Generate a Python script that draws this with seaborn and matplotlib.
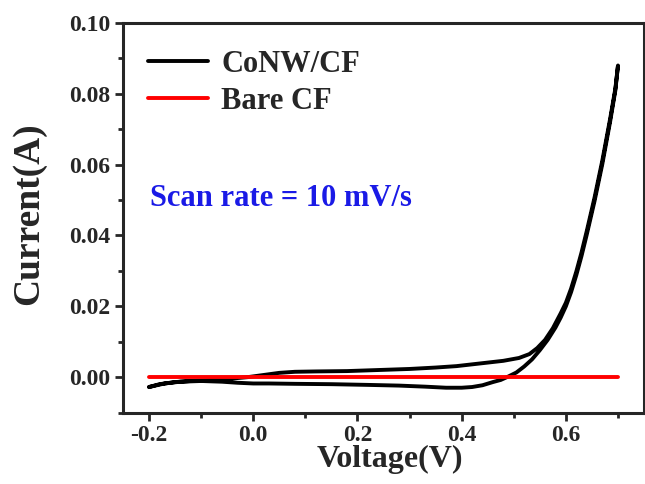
import pandas as pd
import matplotlib
matplotlib.use('Agg')
import matplotlib.pyplot as plt
from matplotlib.ticker import MultipleLocator, FormatStrFormatter
import seaborn as sns

# CoNW/CF cyclic voltammogram, forward (upper) branch
fwd_v = [-0.20, -0.18, -0.15, -0.12, -0.08, -0.04, -0.01, 0.02, 0.05, 0.08,
         0.12, 0.18, 0.24, 0.30, 0.35, 0.39, 0.42, 0.45, 0.48, 0.51,
         0.53, 0.545, 0.56, 0.575, 0.59, 0.60, 0.61, 0.62, 0.63, 0.64,
         0.655, 0.67, 0.685, 0.695, 0.70]
fwd_i = [-0.0028, -0.0020, -0.0014, -0.0011, -0.0008, -0.0004, 0.0000, 0.0006, 0.0012, 0.0015,
         0.0016, 0.0017, 0.0020, 0.0023, 0.0027, 0.0031, 0.0036, 0.0041, 0.0046, 0.0054,
         0.0065, 0.0082, 0.0105, 0.0138, 0.0180, 0.0210, 0.0250, 0.0298, 0.0352, 0.0412,
         0.0507, 0.0612, 0.0730, 0.0815, 0.0880]

# reverse (lower) branch
rev_v = [0.70, 0.695, 0.685, 0.67, 0.655, 0.64, 0.63, 0.62, 0.61, 0.60,
         0.59, 0.58, 0.565, 0.55, 0.535, 0.52, 0.505, 0.49, 0.475, 0.46,
         0.44, 0.42, 0.40, 0.37, 0.33, 0.28, 0.22, 0.15, 0.08, 0.03,
         0.00, -0.03, -0.06, -0.10, -0.14, -0.17, -0.20]
rev_i = [0.0880, 0.0810, 0.0722, 0.0602, 0.0497, 0.0402, 0.0342, 0.0288, 0.0240, 0.0200,
         0.0168, 0.0140, 0.0105, 0.0076, 0.0050, 0.0030, 0.0013, 0.0002, -0.0008, -0.0014,
         -0.0023, -0.0028, -0.0030, -0.0030, -0.0027, -0.0024, -0.0022, -0.0020, -0.0019, -0.0018,
         -0.0018, -0.0016, -0.0013, -0.0011, -0.0013, -0.0018, -0.0028]

# bare carbon fibre, flat
bare_v = [-0.20, 0.00, 0.20, 0.40, 0.60, 0.70]
bare_i = [0.0, 0.0, 0.0, 0.0, 0.0, 0.0]

conw = pd.DataFrame({'V': fwd_v + rev_v, 'I': fwd_i + rev_i, 'sample': 'CoNW/CF'})
bare = pd.DataFrame({'V': bare_v, 'I': bare_i, 'sample': 'Bare CF'})
df = pd.concat([conw, bare], ignore_index=True)

sns.set_style('ticks')
plt.rcParams['font.family'] = ['Liberation Serif', 'DejaVu Serif']
plt.rcParams['font.weight'] = 'bold'

fig = plt.figure(figsize=(6.45, 4.84), dpi=100)
ax = fig.add_axes([0.1907, 0.1477, 0.8078, 0.8048])

sns.lineplot(data=df, x='V', y='I', hue='sample', sort=False, estimator=None,
             palette={'CoNW/CF': 'black', 'Bare CF': '#ff0000'},
             linewidth=2.8, ax=ax, legend=False)

ax.set_xlim(-0.25, 0.75)
ax.set_ylim(-0.01, 0.10)
ax.xaxis.set_major_locator(MultipleLocator(0.2))
ax.xaxis.set_minor_locator(MultipleLocator(0.1))
ax.yaxis.set_major_locator(MultipleLocator(0.02))
ax.yaxis.set_minor_locator(MultipleLocator(0.01))
ax.xaxis.set_major_formatter(FormatStrFormatter('%.1f'))
ax.yaxis.set_major_formatter(FormatStrFormatter('%.2f'))
ax.set_xticks([-0.2, 0.0, 0.2, 0.4, 0.6])

for sp in ax.spines.values():
    sp.set_linewidth(2.2)
ax.tick_params(which='major', length=6, width=2, labelsize=17, direction='out', pad=3)
ax.tick_params(which='minor', length=3.5, width=2, direction='out')
for lab in ax.get_xticklabels() + ax.get_yticklabels():
    lab.set_fontweight('bold')

ax.set_xlabel('Voltage(V)', fontsize=23, fontweight='bold')
ax.set_ylabel('Current(A)', fontsize=27, fontweight='bold')
ax.xaxis.set_label_coords(0.513, -0.083)
ax.yaxis.set_label_coords(-0.148, 0.51)

handles = [plt.Line2D([], [], color='black', linewidth=2.8),
           plt.Line2D([], [], color='#ff0000', linewidth=2.8)]
ax.legend(handles, ['CoNW/CF', 'Bare CF'], loc='upper left',
          bbox_to_anchor=(148 / 645, 1 - 50 / 484), bbox_transform=fig.transFigure,
          frameon=False, borderpad=0, borderaxespad=0, handlelength=1.95,
          handletextpad=0.45, labelspacing=0.25, prop={'size': 22, 'weight': 'bold'})

ax.text(150 / 645, 1 - 198 / 484, 'Scan rate = 10 mV/s', transform=fig.transFigure,
        ha='left', va='center', color='#1a1ae6', fontsize=22, fontweight='bold')

plt.savefig('out.png', dpi=100)
